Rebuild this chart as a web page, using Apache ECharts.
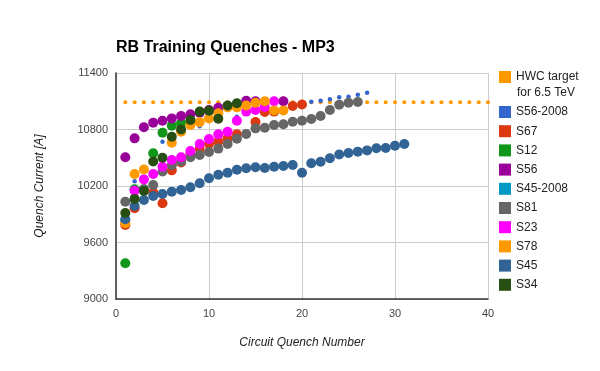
<!DOCTYPE html>
<html><head><meta charset="utf-8">
<script src="https://cdn.jsdelivr.net/npm/echarts@6/dist/echarts.min.js"></script>
<style>html,body{margin:0;padding:0;background:#fff}#c{width:600px;height:371px}</style>
</head><body><div id="c"></div>
<script>
const hwcX = [1,2,3,4,5,6,7,8,9,10,11,12,13,14,15,16,17,18,19,20,21,22,23,24,25,26,27,28,29,30,31,32,33,34,35,36,37,38,39,40];
const hwcY = [11090,11090,11090,11090,11090,11090,11090,11090,11090,11090,11090,11090,11090,11090,11090,11090,11090,11090,11090,11090,11090,11090,11090,11090,11090,11090,11090,11090,11090,11090,11090,11090,11090,11090,11090,11090,11090,11090,11090,11090];
const s56_2008X = [2,5,9,13,21,22,23,24,25,26,27];
const s56_2008Y = [10250,10670,10835,10936,11095,11106,11120,11142,11148,11170,11190];
const s67X = [1,2,4,5,6,7,8,9,10,11,12,13,15,16,17,19,20];
const s67Y = [9786,9963,10130,10016,10366,10450,10540,10593,10646,10670,10706,10749,10880,10985,10990,11050,11065];
const s12X = [1,2,4,5,6,7];
const s12Y = [9379,10165,10547,10766,10840,10866];
const s56X = [1,2,3,4,5,6,7,8,9,10,11,12,14,15,18];
const s56Y = [10505,10706,10823,10873,10893,10918,10943,10961,10978,11007,11031,11050,11106,11100,11100];
const s45_2008X = [1];
const s45_2008Y = [9830];
const s81X = [1,3,4,5,6,7,8,9,10,11,12,13,14,15,16,17,18,19,20,21,22,23,24,25,26];
const s81Y = [10033,10168,10211,10355,10420,10460,10505,10529,10561,10597,10646,10703,10752,10812,10819,10848,10855,10883,10893,10911,10943,11007,11063,11085,11092];
const s23X = [2,3,4,5,6,7,8,9,10,11,12,13,14,15,16,17];
const s23Y = [10150,10270,10327,10405,10476,10505,10572,10646,10699,10749,10777,10893,10990,11007,11040,11100];
const s78X = [1,2,3,6,7,8,9,10,11,12,13,14,15,16,17,18];
const s78Y = [9804,10327,10375,10660,10777,10848,10878,10918,10972,11035,11035,11055,11085,11100,11003,11003];
const s45X = [1,2,3,4,5,6,7,8,9,10,11,12,13,14,15,16,17,18,19,20,21,22,23,24,25,26,27,28,29,30,31];
const s45Y = [9846,9988,10051,10094,10115,10140,10157,10186,10229,10282,10320,10341,10373,10388,10399,10391,10405,10412,10423,10341,10441,10458,10494,10534,10550,10565,10578,10600,10603,10628,10646];
const s34X = [1,2,3,4,5,6,7,8,9,10,11,12,13];
const s34Y = [9914,10063,10148,10460,10500,10723,10800,10901,10990,11000,10915,11055,11078];

const names = ['HWC target','S56-2008','S67','S12','S56','S45-2008','S81','S23','S78','S45','S34'];
const colors = ['#ff9900','#3366cc','#dc3912','#109618','#990099','#0099c6','#666666','#ff00ff','#ff9900','#316395','#274e13'];
const xs = [hwcX,s56_2008X,s67X,s12X,s56X,s45_2008X,s81X,s23X,s78X,s45X,s34X];
const ys = [hwcY,s56_2008Y,s67Y,s12Y,s56Y,s45_2008Y,s81Y,s23Y,s78Y,s45Y,s34Y];
const sizes = [4,4.5,10,10,10,10,10,10,10,10,10];

const zip = (a,b)=>a.map((v,i)=>[v,b[i]]);
const series = names.map((n,i)=>({
  name:n, type:'scatter', data:zip(xs[i],ys[i]), symbol:'circle', symbolSize:sizes[i],
  itemStyle:{color:colors[i], opacity:1}, z:2+i, silent:true
}));

const font = 'Arial, "Liberation Sans", sans-serif';
const chart = echarts.init(document.getElementById('c'), null, {renderer:'canvas'});
chart.setOption({
  animation:false,
  backgroundColor:'#fff',
  color:colors,
  title:{text:'RB Training Quenches - MP3', left:111, top:35,
    textStyle:{fontFamily:font, fontSize:16, fontWeight:'bold', color:'#000'}},
  grid:{left:116, right:112, top:73, bottom:72},
  xAxis:{type:'value', min:0, max:40, interval:10,
    name:'Circuit Quench Number', nameLocation:'middle', nameGap:38,
    nameTextStyle:{fontFamily:font, fontSize:12, fontStyle:'italic', color:'#222'},
    axisLine:{show:true, onZero:false, lineStyle:{color:'#333', width:1.5}},
    axisTick:{show:false},
    axisLabel:{fontFamily:font, fontSize:11, color:'#444', margin:9},
    splitLine:{show:true, lineStyle:{color:'#cccccc'}}},
  yAxis:{type:'value', min:9000, max:11400, interval:600,
    name:'Quench Current [A]', nameLocation:'middle', nameGap:70,
    nameTextStyle:{fontFamily:font, fontSize:12, fontStyle:'italic', color:'#222'},
    axisLine:{show:true, lineStyle:{color:'#333', width:1.5}},
    axisTick:{show:false},
    axisLabel:{fontFamily:font, fontSize:11, color:'#444', margin:8, formatter:v=>String(v)},
    splitLine:{show:true, lineStyle:{color:'#cccccc'}}},
  legend:[
    {data:[names[0]], orient:'vertical', left:499, top:71, padding:0, icon:'rect', itemWidth:12, itemHeight:12,
     textStyle:{fontFamily:font, fontSize:12, color:'#222'}, selectedMode:false},
    {data:names.slice(1), orient:'vertical', left:499, top:106, padding:0, icon:'rect', itemWidth:12, itemHeight:12, itemGap:7.2,
     textStyle:{fontFamily:font, fontSize:12, color:'#222'}, selectedMode:false}
  ],
  graphic:[{type:'text', left:517, top:87, style:{text:'for 6.5 TeV', font:'12px Arial, "Liberation Sans", sans-serif', fill:'#222'}}],
  series:series
});
</script></body></html>
